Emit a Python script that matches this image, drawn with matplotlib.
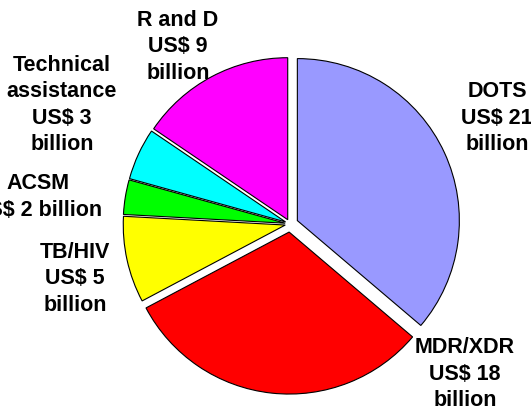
import matplotlib
matplotlib.use("Agg")
import matplotlib.pyplot as plt

# 각 항목별 비용 (US$ billion)
names = ["DOTS", "MDR/XDR", "TB/HIV", "ACSM", "Technical\nassistance", "R and D"]
values = [21, 18, 5, 2, 3, 9]
colors = ["#9999FF", "#FF0000", "#FFFF00", "#00FF00", "#00FFFF", "#FF00FF"]
explode = [0.05, 0.05, 0.03, 0.03, 0.03, 0.03]

label_texts = ["DOTS\nUS$ 21\nbillion",
               "MDR/XDR\nUS$ 18\nbillion",
               "TB/HIV\nUS$ 5\nbillion",
               "ACSM\nUS$ 2 billion",
               "Technical\nassistance\nUS$ 3\nbillion",
               "R and D\nUS$ 9\nbillion"]
# label centres in pixels (x, y from top)
label_pos = [(497, 118), (465, 374), (75, 279), (38, 197), (62, 105), (178, 47)]

W, H = 531, 412
cx, cy, R = 290, 224, 162

fig = plt.figure(figsize=(W / 100, H / 100), dpi=100)
ax = fig.add_axes([0, 0, 1, 1])
ax.pie(values, colors=colors, explode=explode, startangle=90, counterclock=False,
       wedgeprops=dict(edgecolor="black", linewidth=0.8))
ax.set_xlim(-cx / R, (W - cx) / R)
ax.set_ylim(-(H - cy) / R, cy / R)
ax.set_aspect("auto")
ax.axis("off")

for txt, (px, py) in zip(label_texts, label_pos):
    fig.text(px / W, 1 - py / H, txt, ha="center", va="center", fontsize=15.5,
             fontweight="bold", family="Liberation Sans", linespacing=1.32)

fig.savefig("out.png", dpi=100)
